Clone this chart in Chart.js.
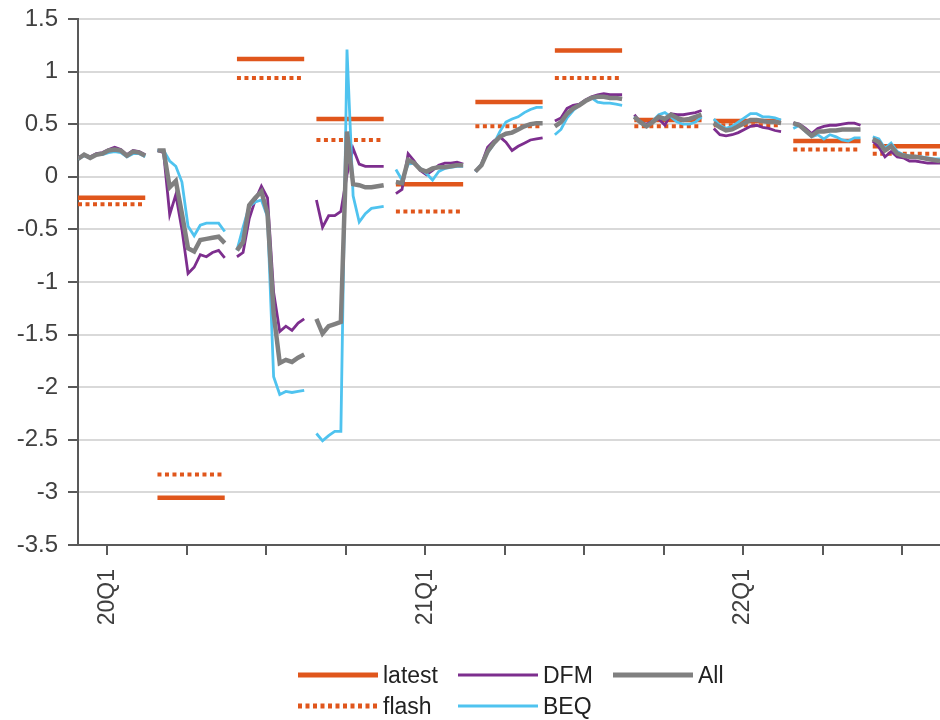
<!DOCTYPE html>
<html>
<head>
<meta charset="utf-8">
<script src="https://cdn.jsdelivr.net/npm/chart.js@4/dist/chart.umd.min.js"></script>
<style>
  body { margin: 0; background: #fff; }
  #wrap { position: relative; width: 940px; height: 720px; }
  #legend { position: absolute; left: 0; top: 0; width: 940px; height: 720px; pointer-events: none;
    font-family: "Liberation Sans", Arial, sans-serif; font-size: 23px; color: #222; }
  .item { position: absolute; display: flex; align-items: center; }
  .item span { margin-left: 5px; }
</style>
</head>
<body>
<div id="wrap">
  <canvas id="chart" width="940" height="720"></canvas>
  <div id="legend"></div>
</div>
<script>
const quarters = ["20Q1", "20Q2", "20Q3", "20Q4", "21Q1", "21Q2", "21Q3", "21Q4", "22Q1", "22Q2", "22Q3"];
const latest = [-0.2, -3.05, 1.12, 0.55, -0.07, 0.71, 1.2, 0.54, 0.53, 0.34, 0.29];
const flash = [-0.26, -2.83, 0.94, 0.35, -0.33, 0.48, 0.94, 0.48, 0.49, 0.26, 0.22];

// weekly nowcasts, 12 per quarter
const dfm = [
  [0.18, 0.21, 0.19, 0.22, 0.23, 0.26, 0.28, 0.26, 0.21, 0.25, 0.24, 0.21],
  [0.25, 0.23, -0.36, -0.17, -0.5, -0.92, -0.86, -0.74, -0.76, -0.72, -0.7, -0.77],
  [-0.76, -0.72, -0.4, -0.22, -0.09, -0.2, -1.1, -1.47, -1.42, -1.46, -1.39, -1.35],
  [-0.22, -0.48, -0.37, -0.37, -0.33, 0.02, 0.27, 0.12, 0.1, 0.1, 0.1, 0.1],
  [-0.16, -0.12, 0.22, 0.15, 0.06, 0.02, 0.06, 0.11, 0.13, 0.13, 0.14, 0.12],
  [0.05, 0.12, 0.28, 0.34, 0.38, 0.33, 0.25, 0.29, 0.32, 0.35, 0.36, 0.37],
  [0.53, 0.56, 0.65, 0.68, 0.69, 0.73, 0.76, 0.78, 0.79, 0.78, 0.78, 0.78],
  [0.59, 0.52, 0.5, 0.53, 0.55, 0.49, 0.6, 0.59, 0.59, 0.6, 0.61, 0.63],
  [0.46, 0.4, 0.39, 0.4, 0.42, 0.45, 0.48, 0.49, 0.47, 0.46, 0.44, 0.43],
  [0.51, 0.5, 0.46, 0.41, 0.46, 0.48, 0.49, 0.49, 0.5, 0.51, 0.51, 0.49],
  [0.34, 0.28, 0.19, 0.24, 0.19, 0.18, 0.15, 0.15, 0.14, 0.13, 0.13, 0.13]
];
const beq = [
  [0.17, 0.2, 0.18, 0.21, 0.21, 0.23, 0.24, 0.23, 0.19, 0.22, 0.22, 0.19],
  [0.25, 0.25, 0.15, 0.1, -0.05, -0.47, -0.56, -0.46, -0.44, -0.44, -0.44, -0.52],
  [-0.7, -0.48, -0.28, -0.24, -0.22, -0.38, -1.9, -2.07, -2.04, -2.05, -2.04, -2.03],
  [-2.44, -2.51, -2.46, -2.42, -2.42, 1.21, -0.18, -0.43, -0.35, -0.3, -0.29, -0.28],
  [0.07, -0.03, 0.12, 0.13, 0.08, 0.03, -0.03, 0.05, 0.08, 0.09, 0.1, 0.1],
  [0.05, 0.12, 0.23, 0.31, 0.43, 0.52, 0.55, 0.57, 0.61, 0.64, 0.66, 0.66],
  [0.4, 0.45, 0.56, 0.63, 0.68, 0.72, 0.75, 0.71, 0.7, 0.7, 0.69, 0.68],
  [0.57, 0.51, 0.48, 0.53, 0.59, 0.61, 0.57, 0.52, 0.5, 0.5, 0.52, 0.57],
  [0.55, 0.49, 0.46, 0.48, 0.52, 0.56, 0.6, 0.6, 0.57, 0.57, 0.56, 0.54],
  [0.46, 0.49, 0.43, 0.38, 0.4, 0.36, 0.4, 0.38, 0.35, 0.34, 0.37, 0.37],
  [0.38, 0.36, 0.27, 0.32, 0.24, 0.21, 0.2, 0.19, 0.19, 0.18, 0.17, 0.17]
];
const all = [
  [0.17, 0.21, 0.18, 0.21, 0.22, 0.25, 0.26, 0.25, 0.2, 0.24, 0.23, 0.2],
  [0.25, 0.25, -0.1, -0.04, -0.35, -0.68, -0.71, -0.6, -0.59, -0.58, -0.57, -0.63],
  [-0.7, -0.62, -0.27, -0.2, -0.14, -0.35, -1.3, -1.77, -1.74, -1.76, -1.72, -1.69],
  [-1.35, -1.49, -1.42, -1.4, -1.38, 0.43, -0.07, -0.08, -0.1, -0.1, -0.09, -0.08],
  [-0.05, -0.06, 0.16, 0.13, 0.07, 0.05, 0.08, 0.09, 0.09, 0.1, 0.11, 0.11],
  [0.05, 0.11, 0.24, 0.32, 0.38, 0.41, 0.42, 0.45, 0.48, 0.5, 0.51, 0.51],
  [0.48, 0.52, 0.6, 0.65, 0.68, 0.72, 0.75, 0.76, 0.76, 0.75, 0.75, 0.74],
  [0.57, 0.52, 0.48, 0.52, 0.57, 0.55, 0.59, 0.56, 0.54, 0.55, 0.57, 0.59],
  [0.51, 0.47, 0.44, 0.45, 0.48, 0.51, 0.54, 0.54, 0.53, 0.52, 0.52, 0.51],
  [0.51, 0.49, 0.44, 0.39, 0.43, 0.43, 0.44, 0.44, 0.45, 0.45, 0.45, 0.45],
  [0.36, 0.33, 0.25, 0.29, 0.22, 0.2, 0.19, 0.19, 0.18, 0.17, 0.16, 0.15]
];

const WEEKS = 13;
const ORANGE = "#e0561c", PURPLE = "#7d2e8e", BLUE = "#4fc3ef", GREY = "#808080";

function weekly(series) {
  const pts = [];
  series.forEach((vals, q) => {
    vals.forEach((v, k) => pts.push({ x: q * WEEKS + k, y: v }));
    pts.push({ x: q * WEEKS + 12, y: null });
  });
  return pts;
}

function flat(values) {
  const pts = [];
  values.forEach((v, q) => {
    pts.push({ x: q * WEEKS, y: v }, { x: q * WEEKS + 11, y: v }, { x: q * WEEKS + 12, y: null });
  });
  return pts;
}

const line = (label, data, color, width, extra) => Object.assign({
  label, data, borderColor: color, backgroundColor: color, borderWidth: width,
  pointRadius: 0, tension: 0, spanGaps: false, borderCapStyle: "butt", fill: false
}, extra || {});

new Chart(document.getElementById("chart"), {
  type: "line",
  data: {
    datasets: [
      line("All", weekly(all), GREY, 4.5),
      line("BEQ", weekly(beq), BLUE, 2.8),
      line("DFM", weekly(dfm), PURPLE, 2.8),
      line("latest", flat(latest), ORANGE, 4.5),
      line("flash", flat(flash), ORANGE, 4, { borderDash: [4, 3.5] })
    ]
  },
  options: {
    responsive: false,
    animation: false,
    events: [],
    layout: { padding: { top: 19, right: 0, left: 0, bottom: 0 } },
    plugins: { legend: { display: false }, tooltip: { enabled: false } },
    scales: {
      x: {
        type: "linear",
        min: 0,
        max: 141,
        afterBuildTicks: (scale) => {
          scale.ticks = quarters.map((q, i) => ({ value: i * WEEKS + 4.8 }));
        },
        afterFit: (scale) => {
          scale.height = 175;
          scale.paddingLeft = 0;
          scale.paddingRight = 0;
        },
        ticks: {
          autoSkip: false,
          minRotation: 90,
          maxRotation: 90,
          padding: 14,
          color: "#404040",
          font: { family: "Liberation Sans", size: 23 },
          callback: (value, index) => (index % 4 === 0 ? quarters[index] : "")
        },
        grid: { drawOnChartArea: false, drawTicks: true, tickLength: 10, color: "#595959", lineWidth: 2 },
        border: { display: true, color: "#595959", width: 2 }
      },
      y: {
        min: -3.5,
        max: 1.5,
        afterFit: (scale) => {
          scale.width = 78;
          scale.paddingTop = 0;
          scale.paddingBottom = 0;
        },
        ticks: {
          stepSize: 0.5,
          padding: 10,
          color: "#404040",
          font: { family: "Liberation Sans", size: 24 },
          callback: (value) => String(Math.round(value * 10) / 10)
        },
        grid: { color: "#d9d9d9", lineWidth: 2, tickColor: "#595959", tickLength: 10, tickWidth: 2 },
        border: { display: true, color: "#595959", width: 2 }
      }
    }
  }
});

// legend laid out as in the original: two rows, three columns
const legendItems = [
  { label: "latest", color: ORANGE, dash: false, w: 5, x: 298, y: 675 },
  { label: "DFM", color: PURPLE, dash: false, w: 3, x: 458, y: 675 },
  { label: "All", color: GREY, dash: false, w: 5, x: 613, y: 675 },
  { label: "flash", color: ORANGE, dash: true, w: 5, x: 298, y: 706 },
  { label: "BEQ", color: BLUE, dash: false, w: 3, x: 458, y: 706 }
];
const legend = document.getElementById("legend");
legendItems.forEach((it) => {
  const div = document.createElement("div");
  div.className = "item";
  div.style.left = it.x + "px";
  div.style.top = (it.y - 14) + "px";
  div.style.height = "28px";
  const swatch = it.dash
    ? `<svg width="80" height="6"><line x1="0" y1="3" x2="80" y2="3" stroke="${it.color}" stroke-width="${it.w}" stroke-dasharray="4 3.5"/></svg>`
    : `<svg width="80" height="6"><line x1="0" y1="3" x2="80" y2="3" stroke="${it.color}" stroke-width="${it.w}"/></svg>`;
  div.innerHTML = swatch + `<span>${it.label}</span>`;
  legend.appendChild(div);
});
</script>
</body>
</html>
